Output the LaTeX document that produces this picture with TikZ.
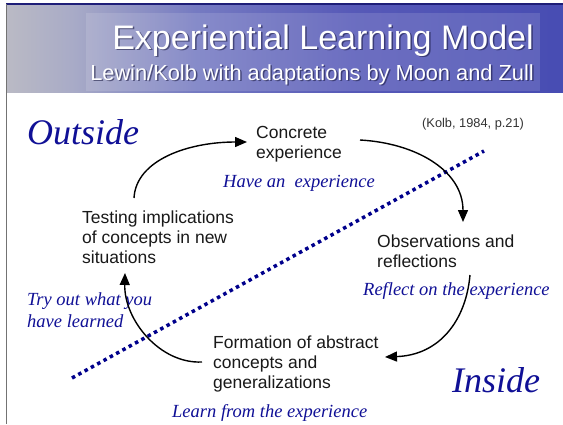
\documentclass[tikz,border=0pt]{standalone}
\usepackage{fontspec}
\setmainfont{Liberation Serif}
\setsansfont{Liberation Sans}
\usetikzlibrary{arrows.meta}
\definecolor{ink}{RGB}{16,16,150}
\definecolor{dotblue}{RGB}{0,0,140}
\definecolor{navyline}{RGB}{30,30,120}
\definecolor{shadowc}{RGB}{20,20,60}
\pgfdeclarehorizontalshading{hdrshade}{100bp}{%
  rgb(0bp)=(0.73,0.73,0.77);
  rgb(25bp)=(0.73,0.73,0.77);
  rgb(31bp)=(0.66,0.67,0.78);
  rgb(42bp)=(0.46,0.48,0.76);
  rgb(56bp)=(0.34,0.35,0.72);
  rgb(75bp)=(0.28,0.30,0.70);
  rgb(100bp)=(0.28,0.30,0.70)}
\begin{document}
\begin{tikzpicture}[x=1pt,y=-1pt,
  body/.style={font=\sffamily\fontsize{17.5}{20}\selectfont, inner sep=0pt, anchor=base west, align=left, text=black!90},
  note/.style={font=\rmfamily\itshape\fontsize{18.5}{22}\selectfont, text=ink, inner sep=0pt, anchor=base west, align=left},
  big/.style={font=\rmfamily\itshape\fontsize{36}{40}\selectfont, text=ink, inner sep=0pt, anchor=base west},
  cyc/.style={-{Triangle[length=12pt,width=10pt]}, line width=1.4pt, black},
  ttl/.style={font=\sffamily\fontsize{34}{38}\selectfont, inner sep=0pt, anchor=base east},
  subttl/.style={font=\sffamily\fontsize{21.8}{24}\selectfont, inner sep=0pt, anchor=base east}
]
\useasboundingbox (0,0) rectangle (563,424);
\fill[white] (0,0) rectangle (563,424);
% header band
\shade[shading=hdrshade] (6,4) rectangle (563,92);
\fill[white, fill opacity=0.13] (86,13) rectangle (540,91);
\draw[navyline, line width=1.5pt] (6,4) -- (563,4);
\draw[gray!90!black, line width=1pt] (6,4) -- (6,424);
% title with shadow
\node[ttl, text=shadowc, opacity=0.55] (title-sh) at (535.5,50.5) {Experiential Learning Model};
\node[ttl, text=white] (title) at (534,49) {Experiential Learning Model};
\node[subttl, text=shadowc, opacity=0.55] (subtitle-sh) at (535.5,81.5) {Lewin/Kolb with adaptations by Moon and Zull};
\node[subttl, text=white] (subtitle) at (534,80) {Lewin/Kolb with adaptations by Moon and Zull};
% dotted divider
\coordinate (div-a) at (72,378);
\coordinate (div-b) at (484,151);
\draw[dotblue, line width=3.5pt, dash pattern=on 3.5pt off 3.7pt] (div-a) -- (div-b);
% labels (multi-line nodes are placed by the baseline of their last line)
\node[big] (outside) at (27,144) {Outside};
\node[big] (inside) at (452,392) {Inside};
\node[font=\sffamily\fontsize{12.8}{14}\selectfont, text=black!80, inner sep=0pt, anchor=base west] (kolb) at (422,127) {(Kolb, 1984, p.21)};
\node[body] (concrete) at (256,158.5) {Concrete\\experience};
\node[note] (have) at (223,187) {Have an\ \ experience};
\node[body] (testing) at (82,263) {Testing implications\\of concepts in new\\situations};
\node[body] (observ) at (377,267) {Observations and\\reflections};
\node[note] (reflect) at (363,295) {Reflect on the experience};
\node[note] (tryout) at (27,327) {Try out what you\\have learned};
\node[body] (formation) at (213,388) {Formation of abstract\\concepts and\\generalizations};
\node[note] (learn) at (172,417) {Learn from the experience};
% connector end points
\coordinate (testing-out) at (134,198);
\coordinate (concrete-in) at (247,142);
\coordinate (concrete-out) at (360,140);
\coordinate (observ-in) at (463,222);
\coordinate (observ-out) at (470,275);
\coordinate (formation-in) at (385,357);
\coordinate (formation-out) at (202,362);
\coordinate (testing-in) at (125,273);
% cycle arrows
\draw[cyc] (testing-out) .. controls (136,160) and (188,142) .. (concrete-in);
\draw[cyc] (concrete-out) .. controls (415,143) and (463,170) .. (observ-in);
\draw[cyc] (observ-out) .. controls (466,320) and (440,355) .. (formation-in);
\draw[cyc] (formation-out) .. controls (160,364) and (124,320) .. (testing-in);
\end{tikzpicture}
\end{document}
